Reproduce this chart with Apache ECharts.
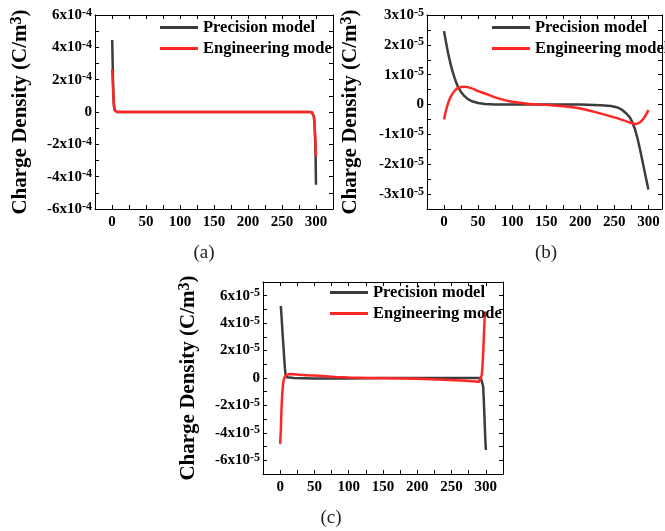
<!DOCTYPE html>
<html>
<head>
<meta charset="utf-8">
<script src="https://cdn.jsdelivr.net/npm/echarts@6/dist/echarts.min.js"></script>
<style>html,body{margin:0;padding:0;background:#fff}#c{width:665px;height:531px}</style>
</head>
<body>
<div id="c"></div>
<script>
// ---------- DATA ----------
const seriesNames = ['Precision model', 'Engineering model'];
const xTickLabels = [0, 50, 100, 150, 200, 250, 300];
const panelCaptions = ['(a)', '(b)', '(c)'];

// Panel (a)  (C/m3)
const aPrecX = [0.3, 1, 1.5, 2, 2.5, 3, 4, 5, 7, 10, 50, 100, 150, 200, 250, 290, 294, 296, 297, 298, 299, 299.5, 300];
const aPrecY = [4.45e-4, 3.0e-4, 2.0e-4, 1.2e-4, 0.7e-4, 0.35e-4, 0.12e-4, 0.04e-4, 0.005e-4, 0, 0, 0, 0, 0, 0, 0, -0.02e-4, -0.1e-4, -0.3e-4, -0.9e-4, -2.0e-4, -3.0e-4, -4.5e-4];
const aEngX = [0.3, 1, 1.5, 2, 2.5, 3, 4, 5, 7, 10, 50, 100, 150, 200, 250, 290, 294, 296, 297, 298, 299, 299.5, 300];
const aEngY = [2.65e-4, 2.0e-4, 1.45e-4, 1.0e-4, 0.6e-4, 0.32e-4, 0.12e-4, 0.04e-4, 0.01e-4, 0, 0, 0, 0, 0, 0, 0, -0.02e-4, -0.1e-4, -0.3e-4, -0.85e-4, -1.7e-4, -2.2e-4, -2.75e-4];

// Panel (b)
const bPrecX = [0, 2, 4, 6, 8, 10, 12, 14, 16, 18, 20, 25, 30, 35, 40, 50, 60, 75, 100, 150, 200, 230, 245, 255, 262, 268, 273, 276, 280, 284, 288, 292, 296, 300];
const bPrecY = [2.46e-5, 2.2e-5, 1.95e-5, 1.72e-5, 1.52e-5, 1.33e-5, 1.15e-5, 1.0e-5, 0.86e-5, 0.73e-5, 0.62e-5, 0.42e-5, 0.28e-5, 0.18e-5, 0.12e-5, 0.05e-5, 0.02e-5, 0.005e-5, 0, 0, 0, -0.02e-5, -0.05e-5, -0.1e-5, -0.19e-5, -0.31e-5, -0.44e-5, -0.57e-5, -0.8e-5, -1.13e-5, -1.53e-5, -1.97e-5, -2.41e-5, -2.85e-5];
const bEngX = [0, 4, 8, 12, 16, 20, 25, 30, 40, 50, 60, 75, 100, 125, 150, 175, 200, 225, 250, 265, 275, 282, 287, 291, 295, 298, 300];
const bEngY = [-0.5e-5, -0.1e-5, 0.17e-5, 0.35e-5, 0.47e-5, 0.55e-5, 0.59e-5, 0.6e-5, 0.55e-5, 0.45e-5, 0.37e-5, 0.24e-5, 0.09e-5, 0.02e-5, -0.01e-5, -0.06e-5, -0.13e-5, -0.27e-5, -0.43e-5, -0.54e-5, -0.62e-5, -0.65e-5, -0.6e-5, -0.52e-5, -0.4e-5, -0.28e-5, -0.18e-5];

// Panel (c)
const cPrecX = [1, 2, 3, 4, 5, 6, 7, 8, 10, 20, 50, 100, 150, 200, 250, 285, 290, 293, 295, 296, 297, 298, 299, 300];
const cPrecY = [5.25e-5, 4.5e-5, 3.7e-5, 2.9e-5, 2.2e-5, 1.4e-5, 0.7e-5, 0.2e-5, 0.05e-5, 0, -0.03e-5, -0.03e-5, 0, 0, 0, 0, 0, -0.05e-5, -0.15e-5, -0.6e-5, -1.6e-5, -2.9e-5, -4.2e-5, -5.25e-5];
const cEngX = [0, 1, 2, 3, 4, 5, 6, 8, 10, 13, 20, 28, 40, 57, 80, 100, 130, 160, 200, 240, 270, 285, 290, 292, 294, 295, 296, 297, 298, 299];
const cEngY = [-4.8e-5, -3.8e-5, -2.2e-5, -1.2e-5, -0.55e-5, -0.2e-5, 0.0, 0.17e-5, 0.25e-5, 0.29e-5, 0.28e-5, 0.24e-5, 0.2e-5, 0.17e-5, 0.08e-5, 0.03e-5, 0, -0.02e-5, -0.05e-5, -0.12e-5, -0.2e-5, -0.25e-5, -0.28e-5, -0.2e-5, 0.2e-5, 0.76e-5, 1.7e-5, 2.9e-5, 4.1e-5, 4.85e-5];

// ---------- CHART ----------
const FONT = '"Liberation Serif", "Times New Roman", serif';
const BLACK = '#3c3c3c', RED = '#ff2626';
const zip = (xs, ys) => xs.map((x, i) => [x, ys[i]]);

function yFormatter(unit, exp, step) {
  return function (v) {
    const r = v / unit;
    const k = Math.round(r);
    if (Math.abs(r - k) > 1e-6) return '';
    if (k % step !== 0) return '';
    if (k === 0) return '{b|0}';
    return '{b|' + k + 'x10}{s|' + exp + '}';
  };
}
const labelRich = {
  b: { fontFamily: FONT, fontWeight: 'bold', fontSize: 15, color: '#000', lineHeight: 17 },
  s: { fontFamily: FONT, fontWeight: 'bold', fontSize: 12, color: '#000', lineHeight: 11, verticalAlign: 'top' }
};
const xFmt = v => (xTickLabels.indexOf(Math.round(v)) >= 0 && Math.abs(v - Math.round(v)) < 1e-6) ? String(Math.round(v)) : '';

const grids = [
  { left: 95, top: 15, width: 238, height: 194 },
  { left: 427, top: 15, width: 236, height: 194 },
  { left: 263, top: 282, width: 240, height: 192 }
];
const xMax = [325, 320, 325];
const yCfg = [
  { min: -6e-4, max: 6e-4, interval: 1e-4, fmt: yFormatter(1e-4, '-4', 2) },
  { min: -3.5e-5, max: 3e-5, interval: 0.5e-5, fmt: yFormatter(1e-5, '-5', 1) },
  { min: -7e-5, max: 7e-5, interval: 1e-5, fmt: yFormatter(1e-5, '-5', 2) }
];
const nameGaps = [62, 64, 62];

const axisLine = { show: true, onZero: false, lineStyle: { color: '#000', width: 1 } };
const tick = { show: true, inside: true, length: 4, lineStyle: { color: '#000', width: 1 } };

const xAxis = [], yAxis = [];
for (let i = 0; i < 3; i++) {
  xAxis.push({ type: 'value', gridIndex: i, position: 'bottom', min: -25, max: xMax[i], interval: 25,
    axisLine, axisTick: tick, splitLine: { show: false },
    axisLabel: { formatter: xFmt, margin: 6, fontFamily: FONT, fontWeight: 'bold', fontSize: 15, color: '#000' } });
  xAxis.push({ type: 'value', gridIndex: i, position: 'top', min: -25, max: xMax[i], interval: 25,
    axisLine, axisTick: tick, splitLine: { show: false }, axisLabel: { show: false } });
  yAxis.push({ type: 'value', gridIndex: i, position: 'left', min: yCfg[i].min, max: yCfg[i].max, interval: yCfg[i].interval,
    axisLine, axisTick: tick, splitLine: { show: false },
    axisLabel: { formatter: yCfg[i].fmt, margin: 3, rich: labelRich },
    name: '{t|Charge Density (C/m}{u|3}{t|)}', nameLocation: 'middle', nameGap: nameGaps[i], nameRotate: 90,
    nameTextStyle: { rich: {
      t: { fontFamily: FONT, fontWeight: 'bold', fontSize: 21, color: '#000', lineHeight: 24 },
      u: { fontFamily: FONT, fontWeight: 'bold', fontSize: 16, color: '#000', lineHeight: 16, verticalAlign: 'top' } } } });
  yAxis.push({ type: 'value', gridIndex: i, position: 'right', min: yCfg[i].min, max: yCfg[i].max, interval: yCfg[i].interval,
    axisLine, axisTick: tick, splitLine: { show: false }, axisLabel: { show: false } });
}

const data = [[aPrecX, aPrecY, aEngX, aEngY], [bPrecX, bPrecY, bEngX, bEngY], [cPrecX, cPrecY, cEngX, cEngY]];
const series = [];
for (let i = 0; i < 3; i++) {
  const d = data[i];
  series.push({ type: 'line', name: seriesNames[0], xAxisIndex: 2 * i, yAxisIndex: 2 * i, data: zip(d[0], d[1]),
    showSymbol: false, smooth: false, lineStyle: { color: BLACK, width: 2.5, join: 'round' }, itemStyle: { color: BLACK } });
  series.push({ type: 'line', name: seriesNames[1], xAxisIndex: 2 * i, yAxisIndex: 2 * i, data: zip(d[2], d[3]),
    showSymbol: false, smooth: i === 1 ? 0.3 : false, lineStyle: { color: RED, width: 2.5, join: 'round' }, itemStyle: { color: RED } });
}

const legendPos = [{ left: 160, top: 19, w: 131 }, { left: 492, top: 19, w: 200 }, { left: 330, top: 284, w: 132 }];
const legend = legendPos.map(p => ({
  data: seriesNames, orient: 'vertical', left: p.left, top: p.top, padding: 0, itemGap: 4,
  itemWidth: 38, itemHeight: 3, icon: 'rect', selectedMode: false,
  textStyle: { fontFamily: FONT, fontWeight: 'bold', fontSize: 16.5, color: '#000', width: p.w, overflow: 'truncate', ellipsis: '' }
}));

const capPos = [[204, 253], [546, 253], [331, 518]];
const graphic = capPos.map((p, i) => ({
  type: 'text', x: p[0], y: p[1],
  style: { text: panelCaptions[i], align: 'center', verticalAlign: 'middle', font: 'normal 19px ' + FONT, fill: '#222' }
}));

const chart = echarts.init(document.getElementById('c'), null, { renderer: 'canvas' });
chart.setOption({
  animation: false,
  backgroundColor: '#fff',
  grid: grids,
  xAxis, yAxis, series, legend, graphic
});
</script>
</body>
</html>
